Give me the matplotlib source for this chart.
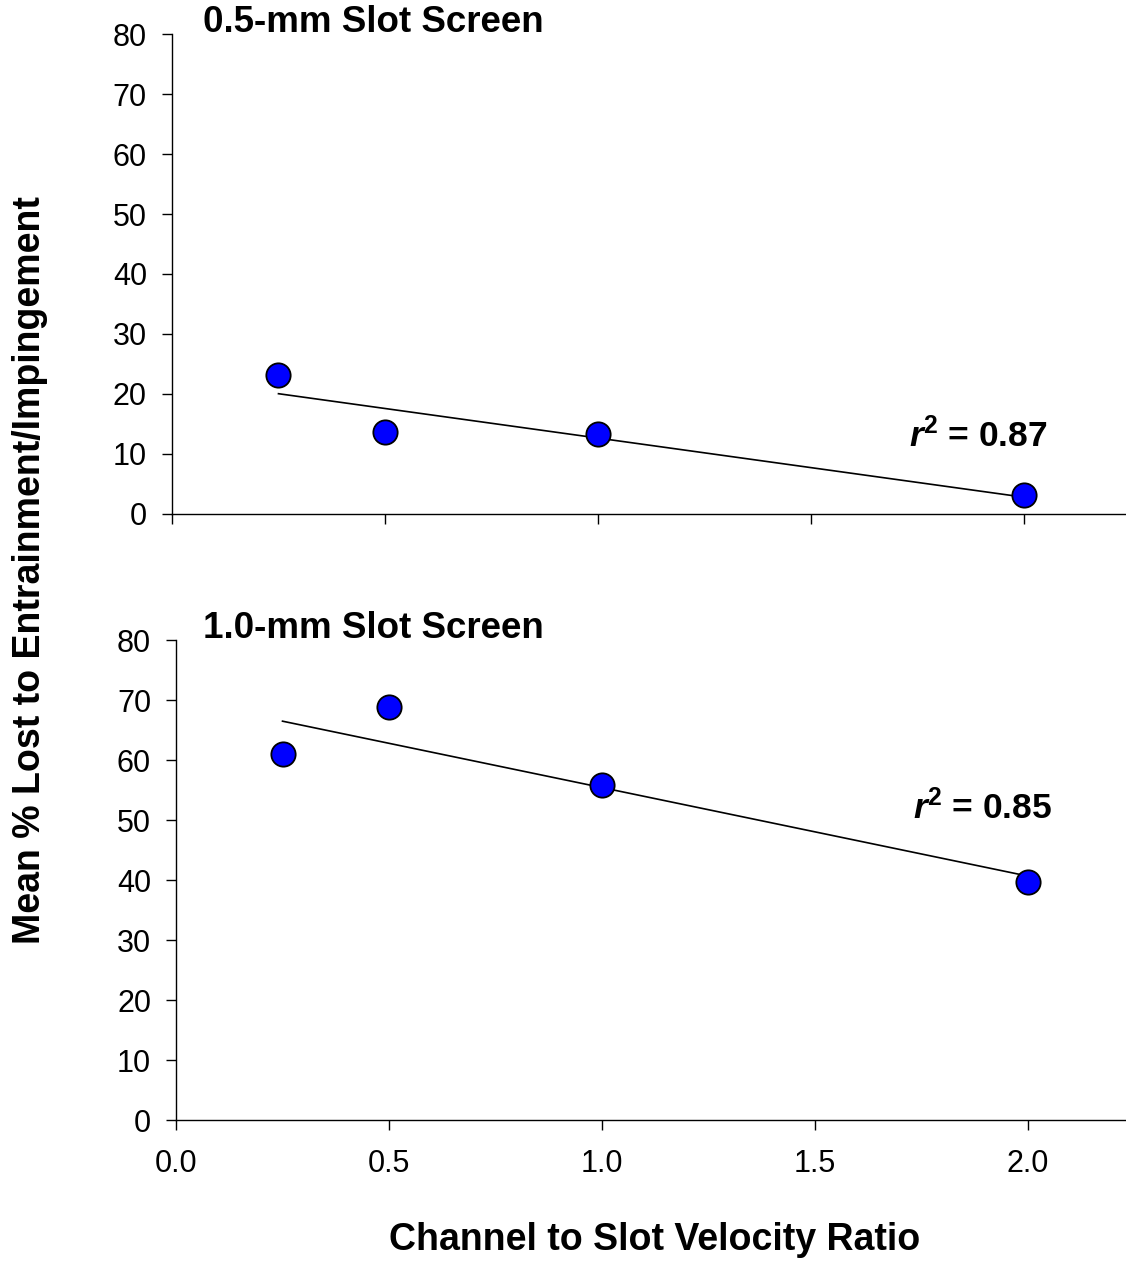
import numpy as np
import matplotlib
matplotlib.use("Agg")
import matplotlib.pyplot as plt

plt.rcParams["font.family"] = ["Liberation Sans", "DejaVu Sans"]
plt.rcParams["mathtext.fontset"] = "custom"
plt.rcParams["mathtext.rm"] = "Liberation Sans"
plt.rcParams["mathtext.it"] = "Liberation Sans:italic"
plt.rcParams["mathtext.bf"] = "Liberation Sans:bold"
plt.rcParams["mathtext.bfit"] = "Liberation Sans:bold:italic"

# velocity ratio (channel : slot)
ratio = [0.25, 0.5, 1.0, 2.0]
# mean % lost
loss_05mm = [23.1, 13.6, 13.3, 3.1]
loss_10mm = [61.0, 68.9, 55.8, 39.6]
panel_titles = ["0.5-mm Slot Screen", "1.0-mm Slot Screen"]
r2_labels = ["0.87", "0.85"]


def draw_panel(ax, x, y, title, title_x, r2, r2_y, show_xlabels, xmax):
    x = np.asarray(x)
    y = np.asarray(y)
    slope, icept = np.polyfit(x, y, 1)
    xf = np.array([x.min(), x.max()])
    ax.plot(xf, icept + slope * xf, color="black", linewidth=1.2, zorder=2)
    ax.plot(x, y, "o", color="#0000ff", markeredgecolor="black",
            markeredgewidth=1.3, markersize=17.5, zorder=3, clip_on=False)
    ax.set_xlim(0, xmax)
    ax.set_ylim(0, 80)
    ax.set_yticks(np.arange(0, 81, 10))
    ax.set_xticks([0.0, 0.5, 1.0, 1.5, 2.0])
    if show_xlabels:
        ax.set_xticklabels([f"{v:.1f}" for v in [0.0, 0.5, 1.0, 1.5, 2.0]])
    else:
        ax.set_xticklabels([])
    for s in ["top", "right"]:
        ax.spines[s].set_visible(False)
    for s in ["left", "bottom"]:
        ax.spines[s].set_linewidth(1.0)
    ax.tick_params(direction="out", length=7, width=1.0, labelsize=22)
    ax.tick_params(axis="y", pad=11)
    ax.tick_params(axis="x", pad=14)
    ax.text(title_x, 82, title, fontsize=26.5, fontweight="bold",
            va="center", ha="left", clip_on=False)
    ax.text(1.73, r2_y, r"$\mathbfit{r}^{\mathbf{2}}$" + " = " + r2,
            fontsize=25.5, fontweight="bold", va="center", ha="left")


fig = plt.figure(figsize=(11.26, 12.63), dpi=100)
ax1 = fig.add_axes([172 / 1126, 1 - 514 / 1263, 1 - 172 / 1126, 480 / 1263])
ax2 = fig.add_axes([176 / 1126, 1 - 1120 / 1263, 1 - 176 / 1126, 480 / 1263])

draw_panel(ax1, ratio, loss_05mm, panel_titles[0], 0.073, r2_labels[0], 13.0, False, 2.24)
draw_panel(ax2, ratio, loss_10mm, panel_titles[1], 0.064, r2_labels[1], 52.0, True, 2.23)

fig.text(655 / 1126, 1 - 1240 / 1263, "Channel to Slot Velocity Ratio",
         fontsize=27, fontweight="bold", ha="center", va="center")
fig.text(30 / 1126, 1 - 570 / 1263, "Mean % Lost to Entrainment/Impingement",
         fontsize=27, fontweight="bold", ha="center", va="center", rotation=90)

fig.savefig("out.png", dpi=100)
